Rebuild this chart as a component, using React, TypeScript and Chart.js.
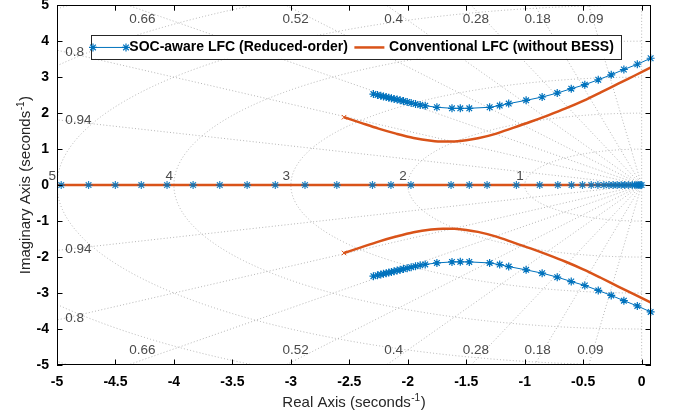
import React, { useEffect, useRef } from "react";
import { Chart, registerables } from "chart.js";

Chart.register(...registerables);

// ---- Data ----
const xTicks = [-5, -4.5, -4, -3.5, -3, -2.5, -2, -1.5, -1, -0.5, 0];
const yTicks = [-5, -4, -3, -2, -1, 0, 1, 2, 3, 4, 5];
const zetaValues = [0.09, 0.18, 0.28, 0.4, 0.52, 0.66, 0.8, 0.94];
const wnValues = [1, 2, 3, 4, 5, 6, 7];
const seriesNames = ["SOC-aware LFC (Reduced-order)", "Conventional LFC (without BESS)"];

// SOC-aware (blue) complex branch (upper half; lower half is its conjugate)
const blueBranchRe = [
  -2.294, -2.259, -2.231, -2.208, -2.185, -2.162, -2.14, -2.117, -2.091, -2.065, -2.037,
  -2.005, -1.971, -1.934, -1.894, -1.851, -1.751, -1.622, -1.551, -1.474, -1.3, -1.214,
  -1.137, -0.988, -0.851, -0.722, -0.602, -0.486, -0.371, -0.26, -0.152, -0.037, 0.077,
];
const blueBranchIm = [
  2.531, 2.505, 2.483, 2.465, 2.448, 2.43, 2.412, 2.395, 2.376, 2.356, 2.334, 2.309, 2.282,
  2.254, 2.228, 2.205, 2.163, 2.135, 2.133, 2.135, 2.163, 2.21, 2.265, 2.356, 2.448, 2.558,
  2.68, 2.79, 2.928, 3.066, 3.213, 3.359, 3.525,
];
// SOC-aware (blue) real-axis branch
const blueRealRe = [
  -5.25, -4.964, -4.73, -4.501, -4.279, -4.059, -3.836, -3.608, -3.374, -3.133, -2.879,
  -2.607, -2.302, -2.144, -1.973, -1.63, -1.474, -1.322, -1.071, -0.872, -0.717, -0.6,
  -0.506, -0.431, -0.374, -0.323, -0.28, -0.243, -0.209, -0.175, -0.146, -0.114, -0.08,
  -0.058, -0.04, -0.025, -0.012, 0,
];

// Conventional (orange) complex branch (upper half)
const orangeBranchRe = [
  -2.545, -2.4, -2.25, -2.1, -1.95, -1.8, -1.7, -1.6, -1.5, -1.4, -1.25, -1.1, -0.95, -0.8,
  -0.65, -0.5, -0.35, -0.2, -0.05, 0.08,
];
const orangeBranchIm = [
  1.887, 1.73, 1.57, 1.43, 1.31, 1.235, 1.21, 1.215, 1.245, 1.3, 1.425, 1.59, 1.76, 1.94,
  2.13, 2.34, 2.575, 2.82, 3.06, 3.27,
];
// Conventional (orange) real-axis branch
const orangeRealRe = [-5.3, -0.08];

const BLUE = "#0072BD";
const ORANGE = "#D95319";
const FONT = "'Liberation Sans', Arial, Helvetica, sans-serif";

const pts = (re: number[], im: number[], sign = 1) =>
  re.map((v, i) => ({ x: v, y: sign * im[i] }));
const realPts = (re: number[]) => re.map((v) => ({ x: v, y: 0 }));

function drawStar(ctx: CanvasRenderingContext2D, cx: number, cy: number, r: number) {
  const d = Math.cos(Math.PI / 4) * r;
  ctx.beginPath();
  ctx.moveTo(cx - r, cy);
  ctx.lineTo(cx + r, cy);
  ctx.moveTo(cx, cy - r);
  ctx.lineTo(cx, cy + r);
  ctx.moveTo(cx - d, cy - d);
  ctx.lineTo(cx + d, cy + d);
  ctx.moveTo(cx - d, cy + d);
  ctx.lineTo(cx + d, cy - d);
  ctx.stroke();
}

const sgridPlugin = {
  id: "sgrid",
  beforeDatasetsDraw(chart: any) {
    const { ctx, chartArea: a, scales } = chart;
    const xs = scales.x;
    const ys = scales.y;
    const x0 = xs.getPixelForValue(0);
    const y0 = ys.getPixelForValue(0);
    const sx = xs.getPixelForValue(1) - x0;
    const sy = y0 - ys.getPixelForValue(1);

    ctx.save();
    ctx.beginPath();
    ctx.rect(a.left, a.top, a.right - a.left, a.bottom - a.top);
    ctx.clip();
    ctx.strokeStyle = "rgba(140,140,140,0.8)";
    ctx.lineWidth = 0.8;
    ctx.setLineDash([1, 2.2]);
    for (const wn of wnValues) {
      ctx.beginPath();
      ctx.ellipse(x0, y0, wn * sx, wn * sy, 0, Math.PI / 2, Math.PI * 1.5);
      ctx.stroke();
    }
    for (const z of [0, ...zetaValues]) {
      const s = Math.sqrt(1 - z * z);
      for (const sign of [1, -1]) {
        ctx.beginPath();
        ctx.moveTo(x0, y0);
        ctx.lineTo(xs.getPixelForValue(-z * 20), ys.getPixelForValue(sign * s * 20));
        ctx.stroke();
      }
    }
    ctx.restore();

    // grid labels
    ctx.save();
    ctx.fillStyle = "#4a4a4a";
    ctx.font = `13.5px ${FONT}`;
    ctx.textBaseline = "middle";
    for (const z of zetaValues) {
      const s = Math.sqrt(1 - z * z);
      const cot = z / s;
      const tan = s / z;
      if (cot * 5 < 5) {
        ctx.textAlign = "center";
        for (const sign of [1, -1]) {
          ctx.fillText(String(z), xs.getPixelForValue(-cot * 4.86), ys.getPixelForValue(sign * 4.6));
        }
      } else {
        ctx.textAlign = "left";
        for (const sign of [1, -1]) {
          ctx.fillText(String(z), xs.getPixelForValue(-4.93), ys.getPixelForValue(sign * tan * 4.94));
        }
      }
    }
    ctx.textAlign = "center";
    for (const wn of wnValues) {
      if (wn <= 5) {
        ctx.fillText(String(wn), xs.getPixelForValue(-wn - 0.04), ys.getPixelForValue(0.25));
      }
    }
    ctx.restore();
  },
};

const framePlugin = {
  id: "frame",
  afterDraw(chart: any) {
    const { ctx, chartArea: a, scales } = chart;
    const xs = scales.x;
    const ys = scales.y;
    ctx.save();
    // box
    ctx.strokeStyle = "#000";
    ctx.lineWidth = 1;
    ctx.strokeRect(Math.round(a.left) + 0.5, Math.round(a.top) + 0.5, Math.round(a.right - a.left) - 1, Math.round(a.bottom - a.top) - 1);
    // inward ticks
    const tl = 5.5;
    ctx.beginPath();
    for (const v of xTicks) {
      const px = Math.round(xs.getPixelForValue(v)) + 0.5;
      ctx.moveTo(px, a.bottom);
      ctx.lineTo(px, a.bottom - tl);
      ctx.moveTo(px, a.top);
      ctx.lineTo(px, a.top + tl);
    }
    for (const v of yTicks) {
      const py = Math.round(ys.getPixelForValue(v)) + 0.5;
      ctx.moveTo(a.left, py);
      ctx.lineTo(a.left + tl, py);
      ctx.moveTo(a.right, py);
      ctx.lineTo(a.right - tl, py);
    }
    ctx.stroke();

    // axis titles with superscript
    const drawTitle = (cx: number, cy: number, rot: number, main: string) => {
      ctx.save();
      ctx.translate(cx, cy);
      ctx.rotate(rot);
      ctx.fillStyle = "#262626";
      ctx.textBaseline = "middle";
      ctx.textAlign = "left";
      const big = `15px ${FONT}`;
      const small = `10px ${FONT}`;
      ctx.font = big;
      const w1 = ctx.measureText(main).width;
      const w3 = ctx.measureText(")").width;
      ctx.font = small;
      const w2 = ctx.measureText("-1").width;
      const total = w1 + w2 + w3 + 1;
      let x = -total / 2;
      ctx.font = big;
      ctx.fillText(main, x, 0);
      x += w1 + 0.5;
      ctx.font = small;
      ctx.fillText("-1", x, -5);
      x += w2 + 0.5;
      ctx.font = big;
      ctx.fillText(")", x, 0);
      ctx.restore();
    };
    drawTitle((a.left + a.right) / 2, 403, 0, "Real Axis (seconds");
    drawTitle(26, (a.top + a.bottom) / 2, -Math.PI / 2, "Imaginary Axis (seconds");

    // legend
    ctx.font = `bold 14px ${FONT}`;
    const tw1 = ctx.measureText(seriesNames[0]).width;
    const tw2 = ctx.measureText(seriesNames[1]).width;
    const bx = a.left + 34;
    const by = a.top + 30;
    const line1 = 33;
    const line2 = 30;
    const bw = 2 + line1 + 3.3 + tw1 + 6.5 + line2 + 4.7 + tw2 + 6.7;
    const bh = 23.5;
    ctx.fillStyle = "#fff";
    ctx.fillRect(bx, by, bw, bh);
    ctx.strokeStyle = "#262626";
    ctx.lineWidth = 1;
    ctx.strokeRect(Math.round(bx) + 0.5, Math.round(by) + 0.5, Math.round(bw), Math.round(bh));
    const cy = by + bh / 2 + 0.5;
    let x = bx + 2;
    ctx.strokeStyle = BLUE;
    ctx.lineWidth = 1;
    ctx.beginPath();
    ctx.moveTo(x, cy);
    ctx.lineTo(x + line1, cy);
    ctx.stroke();
    ctx.lineWidth = 1.2;
    drawStar(ctx, x, cy, 4);
    drawStar(ctx, x + line1, cy, 4);
    x += line1 + 3.3;
    ctx.fillStyle = "#000";
    ctx.textAlign = "left";
    ctx.textBaseline = "middle";
    ctx.fillText(seriesNames[0], x, cy);
    x += tw1 + 6.5;
    ctx.strokeStyle = ORANGE;
    ctx.lineWidth = 2.5;
    ctx.beginPath();
    ctx.moveTo(x, cy);
    ctx.lineTo(x + line2, cy);
    ctx.stroke();
    x += line2 + 4.7;
    ctx.fillText(seriesNames[1], x, cy);
    ctx.restore();
  },
};

export default function App() {
  const ref = useRef<HTMLCanvasElement | null>(null);
  useEffect(() => {
    if (!ref.current) return;
    const blueCommon = {
      showLine: true,
      borderColor: BLUE,
      backgroundColor: BLUE,
      borderWidth: 1,
      pointStyle: "star",
      pointRadius: 4,
      pointBorderWidth: 1.2,
      pointBorderColor: BLUE,
      tension: 0,
      order: 2,
      clip: { left: 0, top: 0, right: 6, bottom: 0 },
    };
    const orangeCommon = {
      showLine: true,
      borderColor: ORANGE,
      backgroundColor: ORANGE,
      borderWidth: 2.5,
      pointStyle: "crossRot",
      pointRadius: (c: any) => (c.dataIndex === 0 ? 3.2 : 0),
      pointBorderWidth: 1,
      pointBorderColor: ORANGE,
      cubicInterpolationMode: "monotone",
      order: 1,
      clip: 0,
    };
    const chart = new Chart(ref.current, {
      type: "scatter",
      data: {
        datasets: [
          { ...blueCommon, label: seriesNames[0], data: pts(blueBranchRe, blueBranchIm, 1) },
          { ...blueCommon, label: seriesNames[0] + " b", data: pts(blueBranchRe, blueBranchIm, -1) },
          { ...blueCommon, label: seriesNames[0] + " r", pointRadius: 0, data: realPts(blueRealRe) },
          // real-axis markers drawn over the orange line, as in the reference
          {
            ...blueCommon,
            label: seriesNames[0] + " m",
            showLine: false,
            order: 0,
            pointBorderColor: "rgba(0,114,189,0.85)",
            data: realPts(blueRealRe),
          },
          { ...orangeCommon, label: seriesNames[1], data: pts(orangeBranchRe, orangeBranchIm, 1) },
          { ...orangeCommon, label: seriesNames[1] + " b", data: pts(orangeBranchRe, orangeBranchIm, -1) },
          { ...orangeCommon, label: seriesNames[1] + " r", pointRadius: 0, data: realPts(orangeRealRe) },
        ] as any,
      },
      options: {
        animation: false,
        responsive: false,
        devicePixelRatio: 1,
        events: [],
        layout: { padding: { top: 3, right: 27, left: 0, bottom: 0 } },
        plugins: { legend: { display: false }, tooltip: { enabled: false } },
        scales: {
          x: {
            type: "linear",
            min: -5,
            max: 0.08,
            afterBuildTicks: (s: any) => {
              s.ticks = xTicks.map((v) => ({ value: v }));
            },
            afterFit: (s: any) => {
              s.height = 54;
              s.paddingLeft = 0;
              s.paddingRight = 0;
            },
            grid: { display: false, drawTicks: false },
            border: { display: false },
            ticks: {
              autoSkip: false,
              maxRotation: 0,
              padding: 9,
              color: "#000",
              font: { family: FONT, size: 14, weight: "bold" },
              callback: (v: any) => String(v),
            },
          },
          y: {
            type: "linear",
            min: -5,
            max: 5,
            afterBuildTicks: (s: any) => {
              s.ticks = yTicks.map((v) => ({ value: v }));
            },
            afterFit: (s: any) => {
              s.width = 57;
              s.paddingTop = 0;
              s.paddingBottom = 0;
            },
            grid: { display: false, drawTicks: false },
            border: { display: false },
            ticks: {
              autoSkip: false,
              padding: 8,
              color: "#000",
              font: { family: FONT, size: 14, weight: "bold" },
              callback: (v: any) => String(v),
            },
          },
        },
      } as any,
      plugins: [sgridPlugin, framePlugin],
    });
    return () => chart.destroy();
  }, []);
  return (
    <div style={{ position: "absolute", left: 0, top: 0, width: 678, height: 419, background: "#fff" }}>
      <canvas ref={ref} width={678} height={419} style={{ display: "block" }} />
    </div>
  );
}
